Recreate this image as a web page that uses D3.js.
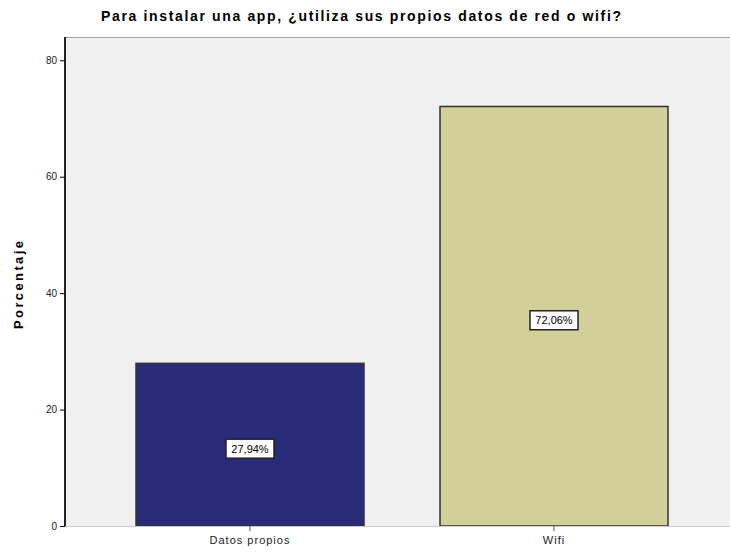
<!DOCTYPE html>
<html>
<head>
<meta charset="utf-8">
<script src="https://d3js.org/d3.v7.min.js"></script>
<style>
  body { margin: 0; background: #fff; }
  text { font-family: "Liberation Sans", Arial, sans-serif; }
</style>
</head>
<body>
<svg id="vis"></svg>
<script>
  var categories = ['Datos propios', 'Wifi']
  var values = [27.94, 72.06]
  var valueLabels = ['27,94%', '72,06%']
  var tickValues = [0, 20, 40, 60, 80]
  var barColors = ['#2a2b78', '#d3cf98']

  var width = 730, height = 552
  var plotLeft = 65, plotRight = 730, plotTop = 37, plotBottom = 526

  var svg = d3.select('#vis')
    .attr('width', width)
    .attr('height', height)

  // plot background
  svg.append('rect')
    .attr('x', plotLeft).attr('y', plotTop)
    .attr('width', plotRight - plotLeft).attr('height', plotBottom - plotTop)
    .attr('fill', '#f0f0f0')
  svg.append('line')
    .attr('x1', plotLeft).attr('x2', plotRight)
    .attr('y1', plotTop + 0.5).attr('y2', plotTop + 0.5)
    .attr('stroke', '#aaa')

  var y = d3.scaleLinear().domain([0, 84]).range([plotBottom, plotTop])
  var x = d3.scaleBand().domain(categories).range([98, 706])
    .paddingInner(0.25).paddingOuter(0.125)

  // bars
  svg.selectAll('rect.bar')
    .data(values)
    .enter().append('rect')
    .attr('class', 'bar')
    .attr('x', (d, i) => x(categories[i]))
    .attr('y', d => y(d))
    .attr('width', x.bandwidth())
    .attr('height', d => plotBottom - y(d))
    .attr('fill', (d, i) => barColors[i])
    .attr('stroke', '#333')
    .attr('stroke-width', 1.5)

  // value labels in boxes
  var lab = svg.selectAll('g.lab')
    .data(values)
    .enter().append('g')
    .attr('class', 'lab')
    .attr('transform', (d, i) => 'translate(' + (x(categories[i]) + x.bandwidth() / 2) + ',' + ((y(d) + plotBottom) / 2 + 4) + ')')
  lab.append('rect')
    .attr('x', -24).attr('y', -9.5).attr('width', 48).attr('height', 19)
    .attr('fill', '#fff').attr('stroke', '#222').attr('stroke-width', 1.5)
  lab.append('text')
    .attr('text-anchor', 'middle')
    .attr('dy', '0.35em')
    .attr('font-size', 11)
    .attr('fill', '#000')
    .text((d, i) => valueLabels[i])

  // y axis
  var yAxis = svg.append('g')
    .attr('transform', 'translate(' + plotLeft + ',0)')
    .call(d3.axisLeft(y).tickValues(tickValues).tickSize(5).tickSizeOuter(0))
  yAxis.select('.domain').attr('stroke', '#222').attr('stroke-width', 2)
    .attr('d', 'M0,' + plotTop + 'V' + plotBottom)
  yAxis.selectAll('text').attr('font-size', 10).attr('fill', '#222')

  // x axis
  var xAxis = svg.append('g')
    .attr('transform', 'translate(0,' + plotBottom + ')')
    .call(d3.axisBottom(x).tickSize(5).tickSizeOuter(0))
  xAxis.select('.domain').attr('stroke', '#ccc')
    .attr('d', 'M' + plotLeft + ',0.5H' + plotRight)
  xAxis.selectAll('.tick line').attr('stroke', '#555')
  xAxis.selectAll('text').attr('font-size', 11).attr('fill', '#222').attr('dy', '0.9em')
    .attr('letter-spacing', 1)

  // title
  svg.append('text')
    .attr('x', 361).attr('y', 21)
    .attr('text-anchor', 'middle')
    .attr('font-size', 14).attr('font-weight', 'bold')
    .attr('textLength', 520).attr('lengthAdjust', 'spacing')
    .text('Para instalar una app, ¿utiliza sus propios datos de red o wifi?')

  // y label
  svg.append('text')
    .attr('transform', 'translate(23,285) rotate(-90)')
    .attr('text-anchor', 'middle')
    .attr('font-size', 13).attr('font-weight', 'bold')
    .attr('textLength', 88).attr('lengthAdjust', 'spacing')
    .text('Porcentaje')
</script>
</body>
</html>
